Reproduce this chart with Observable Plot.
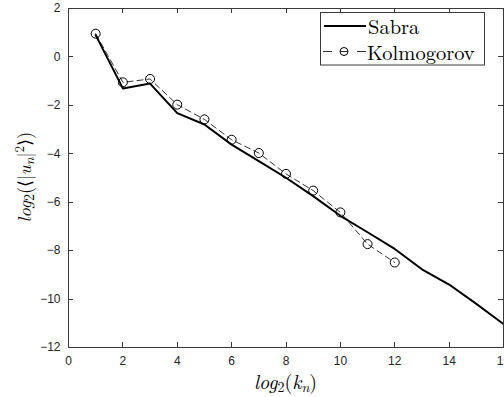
<!DOCTYPE html>
<html>
<head>
<meta charset="utf-8">
<script src="https://cdn.jsdelivr.net/npm/d3@7"></script>
<script src="https://cdn.jsdelivr.net/npm/@observablehq/plot@0.6"></script>
<style>
  html, body { margin: 0; padding: 0; background: #fff; }
  #wrap { position: relative; width: 504px; height: 397px; overflow: hidden; }
  #wrap svg { display: block; overflow: hidden; }
  .tex { position: absolute; font-family: "Latin Modern Roman", "Liberation Serif", serif; color: #000;
         font-size: 20px; line-height: 20px; height: 20px; white-space: nowrap; }
  .tex i { font-style: italic; }
  .tex .sb { font-size: 14px; position: relative; top: 3px; }
  .tex .sp { font-size: 13px; position: relative; top: -7px; }
</style>
</head>
<body>
<div id="wrap"></div>
<script>
// ---- data ----
const sabraN = [1, 2, 3, 4, 5, 6, 7, 8, 9, 10, 11, 12, 13, 14, 15, 16];
const sabraVals = [0.9, -1.3, -1.1, -2.32, -2.79, -3.62, -4.3, -4.99, -5.75, -6.56, -7.24, -7.93, -8.77, -9.4, -10.2, -11.03];
const kolmN = [1, 2, 3, 4, 5, 6, 7, 8, 9, 10, 11, 12];
const kolmVals = [0.96, -1.05, -0.91, -1.97, -2.58, -3.42, -3.97, -4.83, -5.52, -6.42, -7.73, -8.49];
const xTicks = [0, 2, 4, 6, 8, 10, 12, 14, 16];
const yTicks = [2, 0, -2, -4, -6, -8, -10, -12];
const seriesNames = ["Sabra", "Kolmogorov"];

const sabra = sabraN.map((n, i) => ({n, v: sabraVals[i]}));
const kolm = kolmN.map((n, i) => ({n, v: kolmVals[i]}));

// ---- layout ----
const W = 504, H = 397;
const mL = 68, mR = 1, mT = 8, mB = 50;
const plotW = W - mL - mR, plotH = H - mT - mB;
const tickLen = 5;
const axisColor = "#3a3a3a";

const svg = Plot.plot({
  width: W,
  height: H,
  marginLeft: mL,
  marginRight: mR,
  marginTop: mT,
  marginBottom: mB,
  style: {fontFamily: "Liberation Sans, Arial, sans-serif", fontSize: "12px", color: "#262626", background: "#fff"},
  x: {domain: [0, 16]},
  y: {domain: [-12, 2]},
  marks: [
    Plot.axisX(xTicks, {tickSize: 0, tickPadding: 9, label: null, fill: "#262626"}),
    Plot.axisY(yTicks, {tickSize: 0, tickPadding: 8, label: null, fill: "#262626"}),
    Plot.line(kolm, {x: "n", y: "v", stroke: "#000", strokeWidth: 0.8, strokeDasharray: "6,4"}),
    Plot.dot(kolm, {x: "n", y: "v", r: 4.5, stroke: "#000", strokeWidth: 1, fill: "none"}),
    Plot.line(sabra, {x: "n", y: "v", stroke: "#000", strokeWidth: 2}),
    Plot.frame({stroke: axisColor, strokeWidth: 1})
  ]
});
const wrap = document.getElementById("wrap");
wrap.appendChild(svg);

const xs = svg.scale("x"), ys = svg.scale("y");
const s = d3.select(svg);

// inward ticks on all four sides, placed with Plot's scales
const tg = s.append("g").style("stroke", axisColor).style("stroke-width", "1px");
const pTop = mT, pBottom = mT + plotH, pLeft = mL, pRight = mL + plotW;
xTicks.forEach(t => {
  const px = Math.round(xs.apply(t)) + 0.5;
  tg.append("line").attr("x1", px).attr("x2", px).attr("y1", pBottom).attr("y2", pBottom - tickLen);
  tg.append("line").attr("x1", px).attr("x2", px).attr("y1", pTop).attr("y2", pTop + tickLen);
});
yTicks.forEach(t => {
  const py = Math.round(ys.apply(t)) + 0.5;
  tg.append("line").attr("y1", py).attr("y2", py).attr("x1", pLeft).attr("x2", pLeft + tickLen);
  tg.append("line").attr("y1", py).attr("y2", py).attr("x1", pRight).attr("x2", pRight - tickLen);
});

// legend box and samples
const lg = s.append("g");
lg.append("rect").attr("x", 320.5).attr("y", 12.5).attr("width", 164).attr("height", 52.5)
  .style("fill", "#fff").style("stroke", axisColor).style("stroke-width", "1px");
lg.append("line").attr("x1", 324).attr("x2", 366).attr("y1", 26).attr("y2", 26)
  .style("stroke", "#000").style("stroke-width", "2px");
lg.append("line").attr("x1", 323).attr("x2", 366).attr("y1", 51.5).attr("y2", 51.5)
  .style("stroke", "#000").style("stroke-width", "0.8px").style("stroke-dasharray", "9,8,8,9,9");
lg.append("circle").attr("cx", 344).attr("cy", 51.5).attr("r", 4)
  .style("fill", "none").style("stroke", "#000").style("stroke-width", "1px");

// LaTeX-like texts as HTML
function addTex(html, css) {
  const d = document.createElement("div");
  d.className = "tex";
  d.innerHTML = html;
  Object.assign(d.style, css);
  wrap.appendChild(d);
  return d;
}
addTex(seriesNames[0], {left: "368px", top: "16px", fontSize: "20.5px"});
addTex(seriesNames[1], {left: "367px", top: "42px", fontSize: "20.5px"});
addTex('<i>log</i><span class="sb">2</span>(<i>k</i><i class="sb">n</i>)',
  {left: (mL + plotW / 2) + "px", top: "371px", transform: "translateX(-50%)"});
addTex('<i>log</i><span class="sb">2</span>(⟨|<i>u</i><i class="sb">n</i>|<span class="sp">2</span>⟩)',
  {left: "24px", top: "177px", fontSize: "18px", transform: "translate(-50%,-50%) rotate(-90deg)"});
</script>
</body>
</html>
